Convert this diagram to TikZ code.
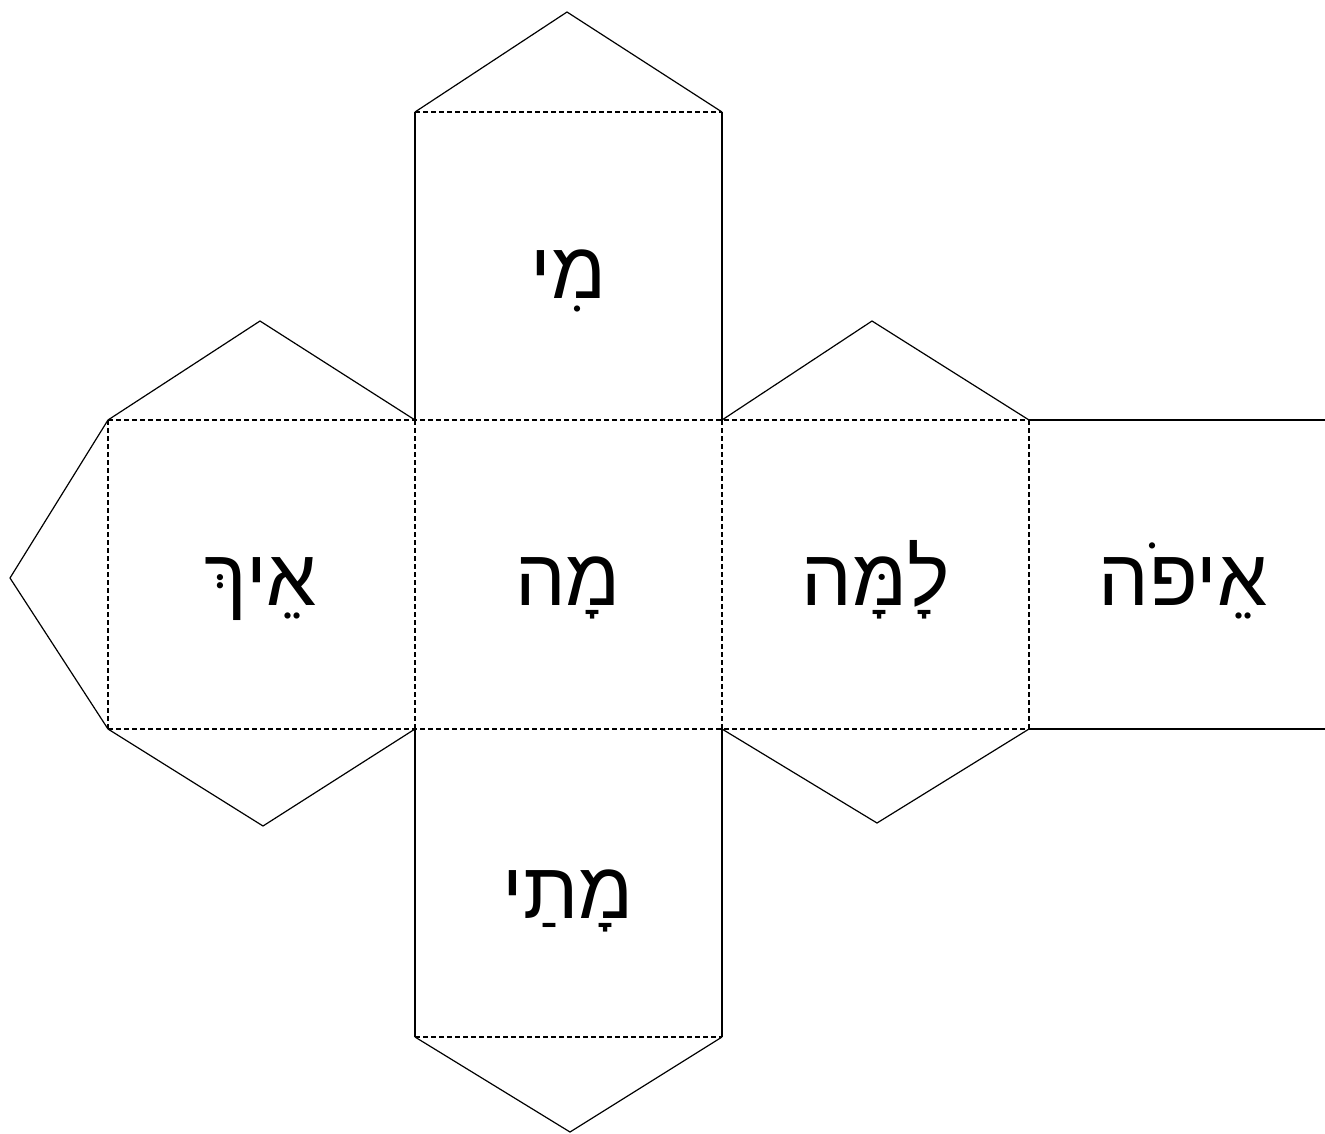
\documentclass[tikz,border=0pt]{standalone}
\usepackage{fontspec}
\TeXXeTstate=1
\newfontfamily\hebfont[Script=Hebrew]{Liberation Sans}
\begin{document}
\begin{tikzpicture}[x=1pt,y=-1pt,
  fold/.style={line width=1.6pt,dash pattern=on 5pt off 3pt},
  cut/.style={line width=2pt},
  tab/.style={line width=1.2pt,line join=miter},
  word/.style={anchor=base,font=\hebfont\fontsize{80}{90}\selectfont,inner sep=0pt}]
\useasboundingbox (0,0) rectangle (1325,1133);
% key points
\coordinate (A1) at (415,112); \coordinate (A2) at (722,112);
\coordinate (B0) at (108,420); \coordinate (B1) at (415,420); \coordinate (B2) at (722,420); \coordinate (B3) at (1029,420); \coordinate (B4) at (1325,420);
\coordinate (C0) at (108,729); \coordinate (C1) at (415,729); \coordinate (C2) at (722,729); \coordinate (C3) at (1029,729); \coordinate (C4) at (1325,729);
\coordinate (D1) at (415,1037); \coordinate (D2) at (722,1037);
% tab apexes
\coordinate (Ttop) at (567,12);
\coordinate (TLt) at (260,321);
\coordinate (TLb) at (263,826);
\coordinate (TLl) at (10,578);
\coordinate (TRt) at (872,321);
\coordinate (TRb) at (877,823);
\coordinate (Tbot) at (570,1132);
% solid cut lines
\draw[cut] (A1) -- (B1);
\draw[cut] (A2) -- (B2);
\draw[cut] (C1) -- (D1);
\draw[cut] (C2) -- (D2);
\draw[cut] (B3) -- (B4);
\draw[cut] (C3) -- (C4);
% tabs
\draw[tab] (A1) -- (Ttop) -- (A2);
\draw[tab] (B0) -- (TLt) -- (B1);
\draw[tab] (C0) -- (TLb) -- (C1);
\draw[tab] (B0) -- (TLl) -- (C0);
\draw[tab] (B2) -- (TRt) -- (B3);
\draw[tab] (C2) -- (TRb) -- (C3);
\draw[tab] (D1) -- (Tbot) -- (D2);
% fold lines
\draw[fold] (A1) -- (A2);
\draw[fold] (B0) -- (B3);
\draw[fold] (C0) -- (C3);
\draw[fold] (B0) -- (C0);
\draw[fold] (B1) -- (C1);
\draw[fold] (B2) -- (C2);
\draw[fold] (B3) -- (C3);
\draw[fold] (D1) -- (D2);
% words
\node[word] (mi) at (568,298) {\beginR מִי\endR};
\node[word] (eikh) at (261,605) {\beginR אֵיךְ\endR};
\node[word] (mah) at (568,605) {\beginR מָה\endR};
\node[word] (lama) at (876,605) {\beginR לָמָּה\endR};
\node[word] (eifo) at (1183,605) {\beginR אֵיפֹה\endR};
\node[word] (matai) at (568,918) {\beginR מָתַי\endR};
\end{tikzpicture}
\end{document}
